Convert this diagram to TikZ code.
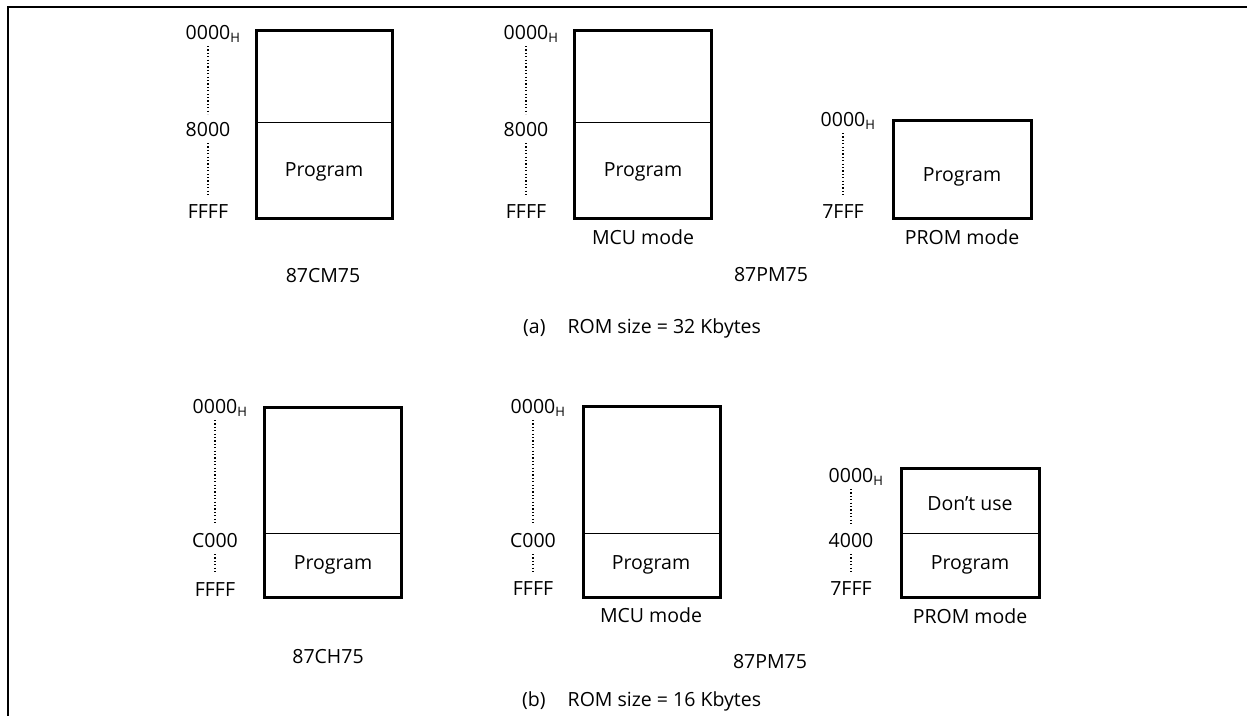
\documentclass[tikz,border=0pt]{standalone}
\usepackage{fontspec}
\setmainfont{Open Sans}
\usetikzlibrary{positioning,calc}
\tikzstyle{memory}=[draw, line width=3pt, inner sep=0pt, outer sep=0pt]
\tikzstyle{divider}=[draw, line width=0.9pt]
\tikzstyle{texto}=[inner sep=0pt, text height=13.6pt, text depth=0pt]
\tikzstyle{addrline}=[draw, line width=1.6pt, dash pattern=on 1.2pt off 2.2pt,
  shorten <=6pt, shorten >=9pt]
\tikzstyle{frame}=[draw, line width=2pt]
\newcommand{\hex}{\rlap{\raisebox{-3pt}{\fontsize{13}{13}\selectfont H}}}
\newcommand{\memmap}[5]{node (#1)[memory, minimum width=#2pt, minimum height=#3pt] at (#4,#5) {}}

\begin{document}
\begin{tikzpicture}[x=1pt,y=-1pt,font=\fontsize{19.5}{23}\selectfont]
  \useasboundingbox (0,0) rectangle (1247,716);

  % Frame
  \coordinate (fr) at (1247,7);
  \coordinate (fc) at (7.5,7);
  \coordinate (fb) at (7.5,716);
  \draw[frame] (fr) -- (fc) -- (fb);

  % (a) 32 Kbytes
  \path \memmap{m1}{136}{188}{324.5}{124.5};
  \path \memmap{m2}{137}{188}{643}{124.5};
  \path \memmap{m3}{138}{98}{962.5}{169.5};
  \coordinate (da) at (0,122);
  \draw[divider] (m1.west |- da) -- (m1.east |- da);
  \draw[divider] (m2.west |- da) -- (m2.east |- da);

  \node[texto] (m1p) at (324,170) {Program};
  \node[texto] (m2p) at (643,170) {Program};
  \node[texto] (m3p) at (962,175) {Program};

  \node[texto] (m1t) at (208,33) {0000\hex};
  \node[texto] (m1m) at (208,130) {8000};
  \node[texto] (m1b) at (208,212) {FFFF};
  \node[texto] (m2t) at (526,33) {0000\hex};
  \node[texto] (m2m) at (526,130) {8000};
  \node[texto] (m2b) at (526,212) {FFFF};
  \node[texto] (m3t) at (843,120) {0000\hex};
  \node[texto] (m3b) at (843,212) {7FFF};

  \draw[addrline] (m1t.south) -- (m1m.north);
  \draw[addrline] (m1m.south) -- (m1b.north);
  \draw[addrline] (m2t.south) -- (m2m.north);
  \draw[addrline] (m2m.south) -- (m2b.north);
  \draw[addrline] (m3t.south) -- (m3b.north);

  \node[texto] (m2l) at (643,238) {MCU mode};
  \node[texto] (m3l) at (962,238) {PROM mode};
  \node[texto] (cm75) at (323,276) {87CM75};
  \node[texto] (pm75a) at (771,275) {87PM75};
  \node[texto, anchor=west] (capa) at (523,327) {(a)\hspace{22pt}ROM size = 32 Kbytes};

  % (b) 16 Kbytes
  \path \memmap{m4}{137}{190}{333}{502.5};
  \path \memmap{m5}{137}{191}{652}{502};
  \path \memmap{m6}{138}{129}{970.5}{533};
  \coordinate (db) at (0,533);
  \draw[divider] (m4.west |- db) -- (m4.east |- db);
  \draw[divider] (m5.west |- db) -- (m5.east |- db);
  \draw[divider] (m6.west |- db) -- (m6.east |- db);

  \node[texto] (m4p) at (333,563) {Program};
  \node[texto] (m5p) at (651,563) {Program};
  \node[texto] (m6u) at (970,504) {Don’t use};
  \node[texto] (m6p) at (970,563) {Program};

  \node[texto] (m4t) at (215,407) {0000\hex};
  \node[texto] (m4m) at (215,541) {C000};
  \node[texto] (m4b) at (215,590) {FFFF};
  \node[texto] (m5t) at (533,407) {0000\hex};
  \node[texto] (m5m) at (533,541) {C000};
  \node[texto] (m5b) at (533,589) {FFFF};
  \node[texto] (m6t) at (851,476) {0000\hex};
  \node[texto] (m6m) at (851,541) {4000};
  \node[texto] (m6b) at (851,589) {7FFF};

  \draw[addrline] (m4t.south) -- (m4m.north);
  \draw[addrline] (m4m.south) -- (m4b.north);
  \draw[addrline] (m5t.south) -- (m5m.north);
  \draw[addrline] (m5m.south) -- (m5b.north);
  \draw[addrline] (m6t.south) -- (m6m.north);
  \draw[addrline] (m6m.south) -- (m6b.north);

  \node[texto] (m5l) at (651,616) {MCU mode};
  \node[texto] (m6l) at (970,617) {PROM mode};
  \node[texto] (ch75) at (328,657) {87CH75};
  \node[texto] (pm75b) at (770,662) {87PM75};
  \node[texto, anchor=west] (capb) at (522,700) {(b)\hspace{22pt}ROM size = 16 Kbytes};
\end{tikzpicture}
\end{document}
